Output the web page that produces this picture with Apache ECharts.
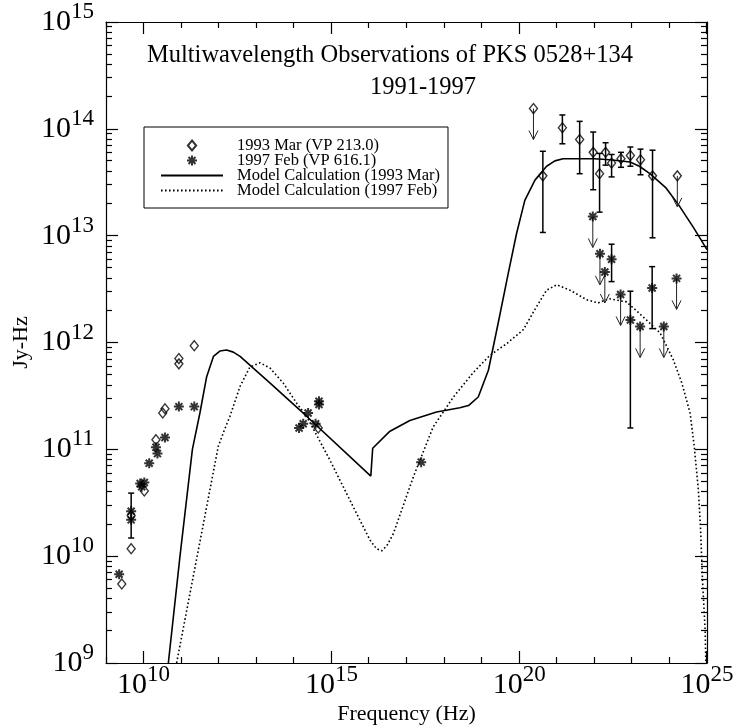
<!DOCTYPE html>
<html>
<head>
<meta charset="utf-8">
<title>PKS 0528+134</title>
<script src="https://cdn.jsdelivr.net/npm/echarts@6/dist/echarts.min.js"></script>
<style>
    html, body { margin: 0; padding: 0; background: #fff; }
    #chart { width: 733px; height: 727px; }
</style>
</head>
<body>
<div id="chart"></div>
<script>
// all values are log10: [frequency (Hz), flux (Jy-Hz)]

// 1993 Mar (VP 213.0) - diamonds
var mar93Points = [
    [9.42, 9.74], [9.67, 10.07], [9.67, 10.38], [10.02, 10.61], [10.33, 11.09],
    [10.51, 11.34], [10.57, 11.38], [10.94, 11.85], [10.94, 11.80], [11.35, 11.97],
    [14.65, 11.20],
    [20.63, 13.56], [21.15, 14.01], [21.61, 13.90], [21.97, 13.78], [22.14, 13.58],
    [22.30, 13.78], [22.46, 13.68], [22.71, 13.72], [22.96, 13.75], [23.23, 13.71],
    [23.55, 13.56]
];
var mar93Limits = [[20.38, 14.19], [24.21, 13.56]];
// [freq, low, high]
var mar93Errors = [
    [20.63, 13.03, 13.79], [21.15, 13.86, 14.13], [21.61, 13.58, 14.07],
    [21.97, 13.43, 13.97], [22.14, 13.22, 13.77], [22.30, 13.66, 13.87],
    [22.46, 13.55, 13.76], [22.71, 13.64, 13.78], [22.96, 13.65, 13.83],
    [23.23, 13.57, 13.81], [23.55, 12.98, 13.80]
];

// 1997 Feb (VP 616.1) - asterisks
var feb97Points = [
    [9.35, 9.83], [9.67, 10.42], [9.67, 10.34], [9.91, 10.68], [9.95, 10.65],
    [10.02, 10.69], [10.15, 10.87], [10.33, 11.02], [10.37, 10.96], [10.57, 11.11],
    [10.94, 11.40], [11.35, 11.40],
    [14.14, 11.20], [14.25, 11.24], [14.38, 11.34], [14.58, 11.24], [14.67, 11.45], [14.67, 11.42],
    [17.39, 10.88],
    [22.46, 12.78], [22.96, 12.21], [23.54, 12.51]
];
var feb97Limits = [
    [21.96, 13.18], [22.15, 12.83], [22.28, 12.66], [22.70, 12.45],
    [23.22, 12.15], [23.85, 12.15], [24.19, 12.60]
];
var feb97Errors = [
    [9.67, 10.17, 10.59], [22.46, 12.57, 12.92], [22.96, 11.20, 12.48], [23.54, 12.13, 12.71]
];

// model curves
var model93 = [
    [10.66, 9.00], [10.97, 10.00], [11.30, 11.00], [11.50, 11.34], [11.68, 11.68],
    [11.86, 11.87], [12.03, 11.92], [12.21, 11.93], [12.39, 11.91], [12.57, 11.87],
    [12.92, 11.76], [13.37, 11.62], [13.81, 11.48], [14.34, 11.31], [16.05, 10.75],
    [16.10, 11.01], [16.56, 11.17], [17.09, 11.27], [17.80, 11.35], [18.42, 11.39],
    [18.65, 11.41], [18.91, 11.49], [19.18, 11.74], [19.44, 12.18], [19.71, 12.65],
    [19.93, 13.02], [20.15, 13.33], [20.42, 13.52], [20.73, 13.65], [20.95, 13.70],
    [21.17, 13.72], [22.00, 13.72], [22.42, 13.71], [22.95, 13.69], [23.20, 13.65],
    [23.48, 13.58], [23.90, 13.45], [24.28, 13.27], [24.65, 13.07], [25.00, 12.87]
];
var model97 = [
    [10.88, 9.00], [11.99, 11.03], [12.15, 11.18], [12.30, 11.31], [12.57, 11.59],
    [12.83, 11.77], [13.10, 11.81], [13.37, 11.76], [13.72, 11.62], [14.08, 11.43],
    [14.34, 11.31], [14.96, 10.90], [15.67, 10.40], [16.03, 10.15], [16.20, 10.07],
    [16.34, 10.05], [16.48, 10.10], [16.65, 10.21], [17.18, 10.74], [17.71, 11.21],
    [18.25, 11.49], [18.78, 11.72], [19.22, 11.88], [19.67, 11.99], [20.11, 12.12],
    [20.47, 12.34], [20.73, 12.49], [21.00, 12.54], [21.35, 12.49], [21.80, 12.40],
    [22.10, 12.37], [22.40, 12.41], [22.86, 12.38], [23.30, 12.24], [23.75, 12.09],
    [24.10, 11.84], [24.33, 11.62], [24.55, 11.34], [24.66, 11.03], [24.77, 10.62],
    [24.83, 10.25], [24.88, 9.78], [24.95, 9.31], [24.97, 9.00]
];

// axis ranges and ticks (exponents)
var xRange = [9, 25];
var yRange = [9, 15];
var xMajor = [10, 15, 20, 25];
var yMajor = [9, 10, 11, 12, 13, 14, 15];

var FONT = 'Liberation Serif';
var pw = function (e) { return Math.pow(10, e); };
var raw = function (arr) {
    return arr.map(function (p) { return p.map(pw); });
};
// keep end values just inside the axis extent
var inside = function (range) {
    return function (e) {
        var v = pw(e);
        if (e === range[0]) v *= 1.000001;
        if (e === range[1]) v *= 0.999999;
        return v;
    };
};
var xMajorVals = xMajor.map(inside(xRange));
var yMajorVals = yMajor.map(inside(yRange));

// every decade on x, 2..9 x 10^n on y
var xDecadeVals = [];
for (var e = xRange[0]; e <= xRange[1]; e++) xDecadeVals.push(inside(xRange)(e));
var yMinorVals = [];
for (var e2 = yRange[0]; e2 < yRange[1]; e2++) {
    for (var m = 2; m <= 9; m++) yMinorVals.push(m * pw(e2));
}

var powLabel = function (v) {
    return '{b|10}{s|' + Math.round(Math.log10(v)) + '}';
};
var labelRich = {
    b: { fontFamily: FONT, fontSize: 30, lineHeight: 30, color: '#000' },
    s: { fontFamily: FONT, fontSize: 23, lineHeight: 23, color: '#000', padding: [0, 0, 20, 0] }
};

var makeAxis = function (kind, pos, isMain) {
    var isX = kind === 'x';
    var r = isX ? xRange : yRange;
    return {
        type: 'log', logBase: 10, position: pos,
        min: pw(r[0]), max: pw(r[1]), interval: 1,
        axisLine: { show: true, onZero: false, lineStyle: { color: '#000', width: 1.2 } },
        axisTick: { show: !isX, inside: true, length: 12, lineStyle: { color: '#000', width: 1.2 } },
        minorTick: { show: false },
        axisLabel: isMain ? {
            show: true, customValues: isX ? xMajorVals : yMajorVals,
            formatter: powLabel, rich: labelRich, margin: isX ? 7 : 12
        } : { show: false },
        splitLine: { show: false },
        minorSplitLine: { show: false }
    };
};

var xMainAxis = makeAxis('x', 'bottom', true);
xMainAxis.name = 'Frequency (Hz)';
xMainAxis.nameLocation = 'middle';
xMainAxis.nameGap = 40;
xMainAxis.nameMoveOverlap = false;
xMainAxis.nameTextStyle = { fontFamily: FONT, fontSize: 22, color: '#000' };

var yMainAxis = makeAxis('y', 'left', true);
yMainAxis.name = 'Jy-Hz';
yMainAxis.nameLocation = 'middle';
yMainAxis.nameGap = 74;
yMainAxis.nameMoveOverlap = false;
yMainAxis.nameTextStyle = { fontFamily: FONT, fontSize: 22, color: '#000' };

var crisp = function (c) { return Math.round(c - 0.5) + 0.5; };

// x ticks on bottom and top edge: long at labelled decades
var renderXTick = function (params, api) {
    var v = api.value(0);
    var b = api.coord([v, pw(yRange[0])]);
    var t = api.coord([v, pw(yRange[1])]);
    var len = xMajor.indexOf(Math.round(Math.log10(v))) >= 0 ? 12 : 6;
    var x = crisp(b[0]);
    return {
        type: 'group',
        children: [
            { type: 'line', shape: { x1: x, y1: b[1], x2: x, y2: b[1] - len },
                style: { stroke: '#000', lineWidth: 1.2 } },
            { type: 'line', shape: { x1: x, y1: t[1], x2: x, y2: t[1] + len },
                style: { stroke: '#000', lineWidth: 1.2 } }
        ]
    };
};

// y minor ticks on left and right edge
var renderYMinor = function (params, api) {
    var v = api.value(1);
    var l = api.coord([pw(xRange[0]), v]);
    var r = api.coord([pw(xRange[1]), v]);
    var y = crisp(l[1]);
    return {
        type: 'group',
        children: [
            { type: 'line', shape: { x1: l[0], y1: y, x2: l[0] + 6, y2: y },
                style: { stroke: '#000', lineWidth: 1.2 } },
            { type: 'line', shape: { x1: r[0], y1: y, x2: r[0] - 6, y2: y },
                style: { stroke: '#000', lineWidth: 1.2 } }
        ]
    };
};

var renderErrorBar = function (params, api) {
    var x = api.value(0);
    var lo = api.coord([x, api.value(1)]);
    var hi = api.coord([x, api.value(2)]);
    var w = 3;
    var st = { stroke: '#000', lineWidth: 1.5 };
    return {
        type: 'group',
        children: [
            { type: 'line', shape: { x1: lo[0], y1: lo[1], x2: hi[0], y2: hi[1] }, style: st },
            { type: 'line', shape: { x1: lo[0] - w, y1: lo[1], x2: lo[0] + w, y2: lo[1] }, style: st },
            { type: 'line', shape: { x1: hi[0] - w, y1: hi[1], x2: hi[0] + w, y2: hi[1] }, style: st }
        ]
    };
};

var renderArrow = function (params, api) {
    var p = api.coord([api.value(0), api.value(1)]);
    var len = 31, hw = 4.5, hh = 9;
    var yEnd = p[1] + len;
    var st = { stroke: '#222', lineWidth: 1, fill: null };
    return {
        type: 'group',
        children: [
            { type: 'line', shape: { x1: p[0], y1: p[1], x2: p[0], y2: yEnd }, style: st },
            { type: 'polyline', shape: { points: [[p[0] - hw, yEnd - hh], [p[0], yEnd], [p[0] + hw, yEnd - hh]] }, style: st }
        ]
    };
};

var diamondPath = 'path://M5,0L10,6L5,12L0,6Z';
var asteriskPath = 'path://M5,0L5,10M0,5L10,5M1.5,1.5L8.5,8.5M1.5,8.5L8.5,1.5';
var hiddenIcon = { color: 'rgba(0,0,0,0)', borderColor: 'rgba(0,0,0,0)', borderWidth: 0 };

var myChart = echarts.init(document.getElementById('chart'));

var option = {
    animation: false,
    backgroundColor: '#fff',
    grid: { left: 106, right: 26, top: 22, bottom: 64, containLabel: false, outerBoundsMode: 'none' },
    xAxis: [xMainAxis, makeAxis('x', 'top', false)],
    yAxis: [yMainAxis, makeAxis('y', 'right', false)],
    legend: {
        orient: 'vertical', left: 144, top: 127,
        padding: [10, 8, 9, 16],
        borderColor: '#000', borderWidth: 1,
        itemWidth: 62, itemHeight: 10, itemGap: -2,
        selectedMode: false,
        symbolKeepAspect: true,
        textStyle: { fontFamily: FONT, fontSize: 16.5, color: '#000', lineHeight: 15, padding: [0, 0, 0, 9] },
        data: [
            { name: '1993 Mar (VP 213.0)' },
            { name: '1997 Feb (VP 616.1)' },
            { name: 'Model Calculation (1993 Mar)', itemStyle: hiddenIcon },
            { name: 'Model Calculation (1997 Feb)', itemStyle: hiddenIcon }
        ]
    },
    graphic: [
        { type: 'text', x: 390, y: 56, style: { text: 'Multiwavelength Observations of PKS 0528+134',
            fontFamily: FONT, fontSize: 24.5, fill: '#000', align: 'center', verticalAlign: 'middle' } },
        { type: 'text', x: 423, y: 88, style: { text: '1991-1997',
            fontFamily: FONT, fontSize: 24.5, fill: '#000', align: 'center', verticalAlign: 'middle' } }
    ],
    series: [
        {
            name: 'Model Calculation (1993 Mar)', type: 'line',
            data: raw(model93), showSymbol: false, symbol: 'none',
            lineStyle: { color: '#000', width: 1.6 }, itemStyle: { color: '#000' }, z: 3
        },
        {
            name: 'Model Calculation (1997 Feb)', type: 'line',
            data: raw(model97), showSymbol: false, symbol: 'none',
            lineStyle: { color: '#000', width: 1.6, type: [1.6, 2.4] }, itemStyle: { color: '#000' }, z: 3
        },
        {
            name: 'err', type: 'custom', renderItem: renderErrorBar,
            data: raw(mar93Errors.concat(feb97Errors)), z: 4, silent: true
        },
        {
            name: 'limits', type: 'custom', renderItem: renderArrow,
            data: raw(mar93Limits.concat(feb97Limits)), z: 4, silent: true
        },
        {
            name: 'xTicks', type: 'custom', renderItem: renderXTick,
            data: xDecadeVals.map(function (v) { return [v, 1e12]; }), z: 4, silent: true
        },
        {
            name: 'yMinorTicks', type: 'custom', renderItem: renderYMinor,
            data: yMinorVals.map(function (v) { return [1e12, v]; }), z: 4, silent: true
        },
        {
            name: '1993 Mar (VP 213.0)', type: 'scatter',
            data: raw(mar93Points.concat(mar93Limits)),
            symbol: diamondPath, symbolSize: [8, 10],
            itemStyle: { color: 'none', borderColor: '#000', borderWidth: 1.4 }, z: 5
        },
        {
            name: '1997 Feb (VP 616.1)', type: 'scatter',
            data: raw(feb97Points.concat(feb97Limits)),
            symbol: asteriskPath, symbolSize: 10,
            itemStyle: { color: 'none', borderColor: '#000', borderWidth: 2 }, z: 5
        }
    ]
};

myChart.setOption(option);
window.onresize = myChart.resize;
</script>
</body>
</html>
